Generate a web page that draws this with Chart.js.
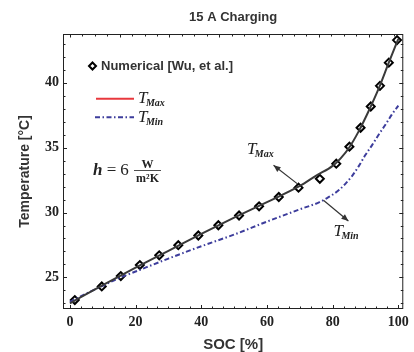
<!DOCTYPE html>
<html><head><meta charset="utf-8">
<script src="https://cdn.jsdelivr.net/npm/chart.js@4.4.1/dist/chart.umd.min.js"></script>
<style>html,body{margin:0;padding:0;background:#fff}#wrap{width:414px;height:352px}</style>
</head><body><div id="wrap"><canvas id="c" width="414" height="352"></canvas></div>
<script>
// ---- data ----
const numSOC  = [1.5, 9.7, 15.5, 21.3, 27.2, 33.0, 39.1, 45.2, 51.5, 57.6, 63.6, 69.6, 76.1, 81.1, 85.1, 88.5, 91.6, 94.4, 97.1, 99.6];
const numTemp = [23.25, 24.3, 25.1, 25.95, 26.7, 27.48, 28.23, 29.02, 29.77, 30.48, 31.2, 31.92, 32.6, 33.77, 35.08, 36.54, 38.18, 39.77, 41.56, 43.3];
const tmaxSOC  = [0, 10, 20, 30, 40, 50, 60, 70, 75, 80, 82.5, 85, 88, 91, 94, 97, 100];
const tmaxTemp = [23.0, 24.4, 25.75, 27.05, 28.35, 29.6, 30.8, 32.05, 32.85, 33.6, 34.2, 35.0, 36.3, 37.85, 39.55, 41.5, 43.4];
const tminSOC  = [0, 5, 10, 15, 20, 30, 40, 50, 60, 70, 76, 78, 80, 82, 84, 86, 88, 90, 92, 94, 96, 98, 100];
const tminTemp = [23.1, 23.75, 24.35, 24.95, 25.45, 26.45, 27.4, 28.3, 29.3, 30.25, 30.8, 31.08, 31.38, 31.75, 32.25, 32.85, 33.6, 34.45, 35.2, 36.0, 36.75, 37.55, 38.25];
const xTicks = [0, 20, 40, 60, 80, 100];
const yTicks = [25, 30, 35, 40];
const titleText = '15 A Charging';
const xTitle = 'SOC [%]';
const yTitle = 'Temperature [°C]';
const legendNumerical = 'Numerical [Wu, et al.]';

const SANS = "'Liberation Sans Narrow', 'Arial Narrow', 'Liberation Sans', sans-serif";
const SERIF = "'Liberation Serif', 'Times New Roman', serif";
const pts = (xs, ys) => xs.map((x, i) => ({x, y: ys[i]}));

function drawT(ctx, sub, x, y, align) {
  ctx.font = "italic 17px " + SERIF;
  const wT = ctx.measureText('T').width;
  ctx.font = "italic bold 10px " + SERIF;
  const wS = ctx.measureText(sub).width;
  let x0 = align === 'center' ? x - (wT + wS) / 2 : x;
  ctx.textAlign = 'left'; ctx.textBaseline = 'alphabetic';
  ctx.font = "italic 17px " + SERIF;
  ctx.fillText('T', x0, y);
  ctx.font = "italic bold 10px " + SERIF;
  ctx.fillText(sub, x0 + wT - 1.5, y + 3);
}
function arrow(ctx, x1, y1, x2, y2) {
  ctx.beginPath(); ctx.moveTo(x1, y1); ctx.lineTo(x2, y2); ctx.stroke();
  const a = Math.atan2(y2 - y1, x2 - x1), L = 7, W = 3;
  ctx.beginPath();
  ctx.moveTo(x2, y2);
  ctx.lineTo(x2 - L * Math.cos(a) + W * Math.sin(a), y2 - L * Math.sin(a) - W * Math.cos(a));
  ctx.lineTo(x2 - L * Math.cos(a) - W * Math.sin(a), y2 - L * Math.sin(a) + W * Math.cos(a));
  ctx.closePath(); ctx.fill();
}

const decor = {
  id: 'decor',
  afterDraw(chart) {
    const {ctx, chartArea: ca, scales: {x, y}} = chart;
    ctx.save();
    ctx.strokeStyle = '#222'; ctx.lineWidth = 1;
    ctx.strokeRect(ca.left + 0.5, ca.top + 0.5, ca.right - ca.left - 1, ca.bottom - ca.top - 1);
    const ln = (a, b, c, d) => { ctx.beginPath(); ctx.moveTo(a, b); ctx.lineTo(c, d); ctx.stroke(); };
    for (let i = 0; i <= 30; i++) {
      const v = i * 20 / 6, px = Math.round(x.getPixelForValue(v)) + 0.5;
      ln(px, ca.bottom, px, ca.bottom - (i % 6 === 0 ? 4 : 2.5));
    }
    for (let i = 0; i <= 26; i++) {
      const v = i * 3.79, px = Math.round(x.getPixelForValue(v)) + 0.5;
      ln(px, ca.top, px, ca.top + (i % 4 === 0 ? 3.5 : 2.5));
    }
    for (let v = 23; v <= 43; v++) {
      const py = Math.round(y.getPixelForValue(v)) + 0.5, L = v % 5 === 0 ? 4 : 2.5;
      ln(ca.left, py, ca.left + L, py);
      ln(ca.right, py, ca.right - L, py);
    }
    // legend
    ctx.fillStyle = '#fff'; ctx.strokeStyle = '#000'; ctx.lineWidth = 2;
    const dx = ca.left + 29.5, dy = ca.top + 32;
    ctx.beginPath(); ctx.moveTo(dx, dy - 3.5); ctx.lineTo(dx + 3.5, dy); ctx.lineTo(dx, dy + 3.5); ctx.lineTo(dx - 3.5, dy); ctx.closePath();
    ctx.fill(); ctx.stroke();
    ctx.fillStyle = '#333';
    ctx.font = "bold 13px " + SANS; ctx.textAlign = 'left'; ctx.textBaseline = 'middle';
    ctx.fillText(legendNumerical, ca.left + 38, dy);
    ctx.strokeStyle = '#e8383d'; ctx.lineWidth = 2;
    ln(ca.left + 33, ca.top + 64.7, ca.left + 71, ca.top + 64.7);
    ctx.strokeStyle = '#3d3d9c'; ctx.setLineDash([5, 2.5, 1.5, 2.5]);
    ln(ca.left + 32, ca.top + 83.2, ca.left + 71, ca.top + 83.2);
    ctx.setLineDash([]);
    ctx.fillStyle = '#222';
    drawT(ctx, 'Max', ca.left + 75, ca.top + 69, 'left');
    drawT(ctx, 'Min', ca.left + 75, ca.top + 87.5, 'left');
    // h = 6 W/(m^2 K)
    ctx.textBaseline = 'alphabetic'; ctx.textAlign = 'left';
    ctx.font = "italic bold 17px " + SERIF;
    ctx.fillText('h', ca.left + 30, ca.top + 141);
    ctx.font = "17px " + SERIF; ctx.textAlign = 'center';
    ctx.fillText('=', ca.left + 48.5, ca.top + 141);
    ctx.fillText('6', ca.left + 61.5, ca.top + 141);
    ctx.font = "bold 12px " + SERIF;
    ctx.fillText('W', ca.left + 84.5, ca.top + 134);
    ctx.fillText('m\u00B2K', ca.left + 84.5, ca.top + 148);
    ctx.lineWidth = 0.8; ctx.strokeStyle = '#222';
    ln(ca.left + 71, ca.top + 136.5, ca.left + 98, ca.top + 136.5);
    // annotations
    ctx.strokeStyle = '#333'; ctx.fillStyle = '#333'; ctx.lineWidth = 1.2;
    arrow(ctx, x.getPixelForValue(69.2), y.getPixelForValue(32.23), x.getPixelForValue(62.0), y.getPixelForValue(33.64));
    arrow(ctx, x.getPixelForValue(77.2), y.getPixelForValue(30.95), x.getPixelForValue(84.8), y.getPixelForValue(29.35));
    ctx.fillStyle = '#222';
    drawT(ctx, 'Max', x.getPixelForValue(58.2), y.getPixelForValue(34.87) + 5, 'center');
    drawT(ctx, 'Min', x.getPixelForValue(84.3), y.getPixelForValue(28.56) + 5, 'center');
    ctx.restore();
  }
};

new Chart(document.getElementById('c').getContext('2d'), {
  type: 'scatter',
  data: { datasets: [
    { label: 'TMax', data: pts(tmaxSOC, tmaxTemp), showLine: true, borderColor: '#3a3a3a', borderWidth: 2,
      pointRadius: 0, cubicInterpolationMode: 'monotone' },
    { label: 'TMin', data: pts(tminSOC, tminTemp), showLine: true, borderColor: '#3d3d9c', borderWidth: 2,
      borderDash: [5, 2.5, 1.5, 2.5], pointRadius: 0, cubicInterpolationMode: 'monotone' },
    { label: 'Numerical', data: pts(numSOC, numTemp), showLine: false, pointStyle: 'rectRot', pointRadius: 4,
      borderColor: '#000', backgroundColor: '#fff', pointBorderWidth: 2, borderWidth: 2 }
  ]},
  options: {
    responsive: false, animation: false, devicePixelRatio: 1,
    layout: { padding: { left: 0, right: 6, top: 0, bottom: 0 } },
    plugins: {
      legend: { display: false }, tooltip: { enabled: false },
      title: { display: true, text: titleText, fullSize: false, color: '#333',
        font: { family: SANS, size: 13, weight: 'bold' }, padding: { top: 10, bottom: 8.4 } }
    },
    scales: {
      x: { type: 'linear', min: -2.1, max: 101.5,
        afterBuildTicks: s => { s.ticks = xTicks.map(v => ({ value: v })); },
        afterFit: s => { s.height = 43; },
        grid: { display: false, drawTicks: false }, border: { display: false },
        ticks: { color: '#222', padding: 5, font: { family: SERIF, size: 14, weight: 'bold' }, maxRotation: 0 },
        title: { display: true, text: xTitle, color: '#333', font: { family: SANS, size: 15, weight: 'bold' }, padding: { top: 0, bottom: -2 } } },
      y: { type: 'linear', min: 22.56, max: 43.77,
        afterBuildTicks: s => { s.ticks = yTicks.map(v => ({ value: v })); },
        afterFit: s => { s.width = 63; },
        grid: { display: false, drawTicks: false }, border: { display: false },
        ticks: { color: '#222', padding: 4, font: { family: SERIF, size: 14, weight: 'bold' } },
        title: { display: true, text: yTitle, color: '#333', font: { family: SANS, size: 14, weight: 'bold' }, padding: { top: 17, bottom: 0 } } }
    }
  },
  plugins: [decor]
});
</script></body></html>
